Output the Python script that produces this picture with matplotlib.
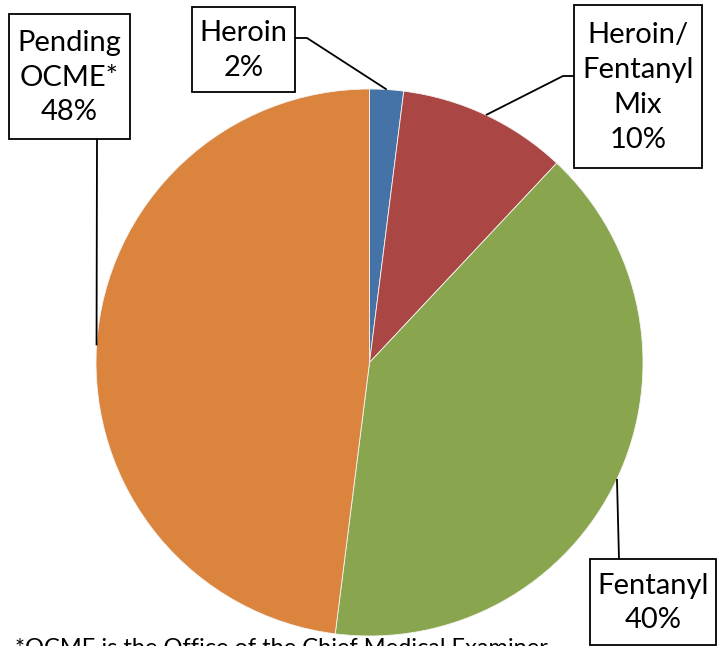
import numpy as np
import matplotlib
matplotlib.use("Agg")
import matplotlib.pyplot as plt
from matplotlib.patches import Rectangle

# ---- data ----
categories = ["Heroin", "Heroin/\nFentanyl\nMix", "Fentanyl", "Pending\nOCME*"]
values = [2, 10, 40, 48]
colors = ["#4572A7", "#AA4643", "#89A54E", "#DB843D"]
footnote = "*OCME is the Office of the Chief Medical Examiner"

W, H = 724, 646
fig = plt.figure(figsize=(W / 100, H / 100), dpi=100)
ax = fig.add_axes([0, 0, 1, 1])

FONT = ["Lato", "DejaVu Sans"]

def Y(y):  # pixel y (top-down) -> data y
    return H - y

cx, cy, R = 369.5, 362.5, 273.5
ax.pie(values, colors=colors, startangle=90, counterclock=False,
       center=(cx, Y(cy)), radius=R,
       wedgeprops=dict(linewidth=0.6, edgecolor="#f4f4f4"))
ax.set_xlim(0, W)
ax.set_ylim(0, H)
ax.set_aspect("equal")
ax.axis("off")

# label boxes (pixel coords: x0, y0, x1, y1) and leader elbows
boxes = [
    (192, 7, 295, 92),
    (574, 5, 702, 168),
    (590, 559, 716, 645),
    (9, 14, 130, 139),
]
leaders = [
    [(295, 38), (307, 38)],
    [(574, 76), (563, 76)],
    [(619, 559)],
    [(97, 139)],
]
total = sum(values)
cum = np.cumsum([0] + values)
for i, (cat, v) in enumerate(zip(categories, values)):
    x0, y0, x1, y1 = boxes[i]
    ax.add_patch(Rectangle((x0, Y(y1)), x1 - x0, y1 - y0, facecolor="white",
                           edgecolor="black", linewidth=1.3, zorder=3))
    label = f"{cat}\n{round(100 * v / total)}%"
    ax.text((x0 + x1) / 2, Y((y0 + y1) / 2) - 1, label, ha="center", va="center",
            fontsize=21, family=FONT, linespacing=1.42, zorder=4)
    mid = (cum[i] + v / 2) / total * 2 * np.pi
    px = cx + R * np.sin(mid)
    py = cy - R * np.cos(mid)
    pts = leaders[i] + [(px, py)]
    ax.plot([p[0] for p in pts], [Y(p[1]) for p in pts], color="black",
            linewidth=1.3, zorder=2, solid_capstyle="butt")

ax.text(15, Y(638), footnote, ha="left", va="top", fontsize=17, family=FONT)

fig.savefig("out.png", dpi=100)
